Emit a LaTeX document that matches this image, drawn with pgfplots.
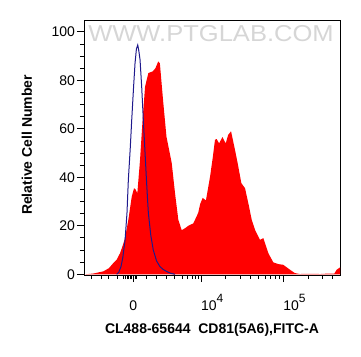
\documentclass[border=0pt]{standalone}
\usepackage{fontspec}
\setmainfont{Liberation Sans}
\usepackage{pgfplots}
\pgfplotsset{compat=1.18}
\definecolor{histred}{RGB}{255,0,0}
\definecolor{ctrlblue}{RGB}{30,25,140}
\begin{document}
\begin{tikzpicture}
\useasboundingbox (-84pt,-81pt) rectangle (277pt,275pt);
\begin{axis}[
  at={(0pt,0pt)}, anchor=south west,
  scale only axis, width=256pt, height=255pt,
  xmin=2.578, xmax=5.689, ymin=-0.3, ymax=104.9,
  axis line style={line width=0.9pt},
  tick align=outside, xtick pos=bottom, ytick pos=left,
  xtick={3.177,4,5},
  xticklabels={0,
    \makebox[0pt][l]{10\raisebox{8pt}{\fontsize{12}{14}\selectfont 4}},
    \makebox[0pt][l]{10\raisebox{8pt}{\fontsize{12}{14}\selectfont 5}}},
  minor xtick={2.67,2.79,2.87,2.98,3.056,3.08,3.10,3.12,3.14,3.16,3.20,3.219,
    3.34,3.46,3.58,3.68,3.77,3.83,3.89,3.93,3.97,
    4.301,4.477,4.602,4.699,4.778,4.845,4.903,4.954,5.301,5.477,5.602},
  ytick={0,20,40,60,80,100},
  minor ytick={5,10,15,25,30,35,45,50,55,65,70,75,85,90,95},
  major tick length=7pt, minor tick length=4pt,
  every tick/.style={black, line width=0.9pt},
  tick label style={font=\fontsize{14}{16}\selectfont},
  /pgf/number format/assume math mode=true,
  xticklabel style={anchor=base, yshift=-28.5pt},
  yticklabel style={xshift=1.5pt},
  xlabel={CL488-65644\ \ CD81(5A6),FITC-A},
  ylabel={Relative Cell Number},
  label style={font=\bfseries\fontsize{14}{16}\selectfont},
  xlabel style={at={(axis description cs:0.5,-0.2160)}, anchor=center},
  ylabel style={at={(axis description cs:-0.2227,0.51)}, anchor=center},
]
\node[font=\fontsize{23}{24}\selectfont, text=black!16, xscale=1.11, inner sep=0pt]
  at (axis description cs:0.496,0.948) {WWW.PTGLAB.COM};
\addplot[fill=histred, draw=none] coordinates {
(2.578,0) (2.60,0) (2.69,0.3) (2.813,1.2) (2.88,2.5) (2.934,4.6) (2.975,6)
(3.016,8.7) (3.05,12) (3.077,15) (3.117,22.5) (3.158,32) (3.186,35.5)
(3.205,35) (3.226,33.4) (3.259,47.2) (3.29,63.7) (3.32,77.4) (3.36,83)
(3.413,83.7) (3.446,85) (3.48,87.8) (3.50,87) (3.542,70.6) (3.58,56.8)
(3.644,45.9) (3.684,33.5) (3.724,22.5) (3.765,18.2)
(3.806,19.0) (3.846,20.0) (3.906,21.0) (3.947,23.9) (3.967,25.5) (3.99,29)
(4.02,31.5) (4.06,30.5) (4.11,40.3) (4.142,48) (4.17,55.5) (4.19,55.8)
(4.22,54) (4.26,56.6) (4.30,54) (4.33,57.5) (4.365,59) (4.413,51.3)
(4.45,45) (4.49,37.6) (4.535,35.5) (4.58,28.5) (4.616,22.5) (4.66,18)
(4.717,14.2) (4.757,14.9) (4.818,8.7) (4.879,4.9) (4.94,4.2) (5.0,3.9)
(5.08,1.9) (5.14,0.5) (5.2,0.1) (5.324,0.2) (5.45,0.1) (5.55,0.3)
(5.62,0.3) (5.649,1.9) (5.689,2.8)
} \closedcycle;
\addplot[draw=ctrlblue, line width=1pt] coordinates {
(2.975,0) (3.0,0.8) (3.028,3.2) (3.05,7) (3.077,14.2) (3.10,25) (3.117,39)
(3.14,52) (3.158,63.7) (3.18,77) (3.198,87) (3.215,93) (3.231,94.6)
(3.245,92) (3.259,88.5) (3.279,77.4) (3.30,63) (3.32,50) (3.34,37)
(3.36,25.3) (3.39,16) (3.42,10) (3.46,5.5) (3.50,3.2) (3.54,2) (3.58,1.2)
(3.63,0.4) (3.684,0)
};
\end{axis}
\end{tikzpicture}
\end{document}
